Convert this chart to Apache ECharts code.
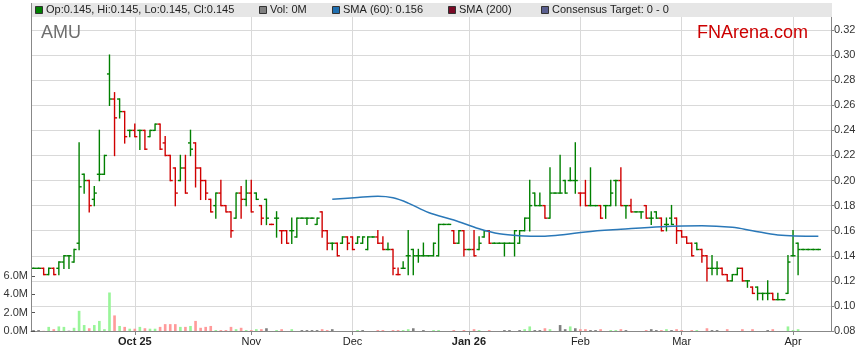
<!DOCTYPE html>
<html><head><meta charset="utf-8">
<script src="https://cdn.jsdelivr.net/npm/echarts@6/dist/echarts.min.js"></script>
<style>html,body{margin:0;padding:0;background:#fff}#c{width:859px;height:363px}</style>
</head><body><div id="c"></div>
<script>
// ---- data ----
const ticker = 'AMU';
const firstDate = '2025-09-03'; // first trading day shown
const opens = [0.13,0.13,0.13,0.125,0.13,0.13,0.135,0.14,0.135,0.15,
  0.205,0.20,0.185,0.205,0.205,0.285,0.265,0.265,0.255,0.24,
  0.24,0.24,0.24,0.235,0.24,0.245,0.23,0.22,0.21,0.20,
  0.21,0.23,0.23,0.21,0.20,0.185,0.18,0.19,0.18,0.175,
  0.17,0.19,0.185,0.19,0.19,0.18,0.185,0.165,0.17,0.16,
  0.16,0.16,0.155,0.17,0.17,0.17,0.165,0.175,0.16,0.15,
  0.15,0.15,0.155,0.155,0.15,0.15,0.145,0.155,0.155,0.15,
  0.145,0.145,0.125,0.13,0.14,0.145,0.14,0.14,0.14,0.14,
  0.14,0.165,0.165,0.16,0.15,0.16,0.145,0.145,0.145,0.155,
  0.16,0.15,0.15,0.15,0.15,0.15,0.15,0.16,0.17,0.19,
  0.18,0.18,0.17,0.19,0.19,0.20,0.20,0.20,0.19,0.19,
  0.18,0.18,0.18,0.18,0.18,0.20,0.20,0.18,0.18,0.175,
  0.175,0.18,0.17,0.175,0.17,0.165,0.17,0.17,0.16,0.155,
  0.15,0.15,0.145,0.14,0.13,0.13,0.13,0.125,0.12,0.125,
  0.13,0.12,0.115,0.115,0.11,0.11,0.11,0.105,0.105,0.11,
  0.14,0.15,0.145,0.145,0.145,0.145];
const highs = [0.13,0.13,0.13,0.13,0.13,0.135,0.14,0.14,0.145,0.23,
  0.205,0.20,0.195,0.24,0.22,0.30,0.27,0.265,0.255,0.24,
  0.245,0.24,0.24,0.24,0.245,0.245,0.235,0.22,0.21,0.22,
  0.22,0.24,0.23,0.21,0.20,0.185,0.19,0.20,0.18,0.175,
  0.19,0.195,0.20,0.20,0.19,0.18,0.185,0.165,0.175,0.16,
  0.16,0.17,0.17,0.17,0.17,0.17,0.17,0.175,0.16,0.15,
  0.15,0.155,0.155,0.155,0.155,0.155,0.155,0.155,0.16,0.155,
  0.15,0.145,0.13,0.135,0.16,0.145,0.145,0.15,0.14,0.15,
  0.165,0.165,0.165,0.16,0.16,0.16,0.145,0.16,0.155,0.16,
  0.16,0.15,0.15,0.15,0.15,0.16,0.16,0.17,0.20,0.19,
  0.19,0.18,0.21,0.19,0.22,0.20,0.21,0.23,0.19,0.20,
  0.21,0.18,0.18,0.18,0.20,0.20,0.21,0.18,0.185,0.175,
  0.175,0.18,0.175,0.175,0.17,0.17,0.18,0.17,0.16,0.155,
  0.15,0.15,0.145,0.14,0.14,0.135,0.13,0.125,0.125,0.13,
  0.13,0.12,0.115,0.115,0.11,0.12,0.11,0.11,0.105,0.14,
  0.16,0.15,0.145,0.145,0.145,0.145];
const lows = [0.13,0.13,0.125,0.125,0.125,0.125,0.13,0.13,0.135,0.145,
  0.19,0.175,0.18,0.20,0.205,0.26,0.22,0.25,0.23,0.235,
  0.235,0.225,0.225,0.235,0.24,0.225,0.22,0.20,0.18,0.20,
  0.19,0.22,0.195,0.185,0.185,0.175,0.17,0.18,0.175,0.155,
  0.17,0.17,0.18,0.175,0.185,0.165,0.165,0.165,0.155,0.15,
  0.15,0.15,0.155,0.17,0.165,0.17,0.165,0.155,0.145,0.145,
  0.14,0.15,0.145,0.145,0.15,0.15,0.145,0.155,0.15,0.145,
  0.145,0.125,0.125,0.13,0.125,0.125,0.135,0.14,0.14,0.14,
  0.14,0.165,0.165,0.15,0.15,0.14,0.145,0.14,0.145,0.155,
  0.15,0.15,0.15,0.14,0.15,0.14,0.15,0.16,0.16,0.18,
  0.18,0.17,0.17,0.19,0.19,0.19,0.20,0.19,0.18,0.18,
  0.18,0.18,0.17,0.17,0.18,0.18,0.18,0.17,0.175,0.175,
  0.17,0.17,0.165,0.17,0.16,0.16,0.165,0.15,0.155,0.15,
  0.14,0.145,0.135,0.12,0.125,0.125,0.125,0.12,0.12,0.125,
  0.12,0.115,0.11,0.105,0.105,0.105,0.105,0.105,0.105,0.11,
  0.14,0.125,0.145,0.145,0.145,0.145];
const closes = [0.13,0.13,0.125,0.13,0.125,0.135,0.14,0.14,0.145,0.195,
  0.20,0.18,0.19,0.205,0.22,0.265,0.25,0.255,0.235,0.24,
  0.235,0.24,0.225,0.24,0.245,0.225,0.22,0.20,0.19,0.21,
  0.19,0.225,0.21,0.20,0.19,0.175,0.19,0.18,0.175,0.16,
  0.19,0.185,0.19,0.175,0.185,0.17,0.17,0.165,0.17,0.16,
  0.15,0.16,0.17,0.17,0.17,0.17,0.17,0.16,0.15,0.15,
  0.14,0.155,0.15,0.145,0.155,0.155,0.155,0.155,0.15,0.145,
  0.145,0.13,0.125,0.13,0.14,0.14,0.14,0.14,0.14,0.15,
  0.165,0.165,0.165,0.15,0.16,0.145,0.145,0.14,0.15,0.16,
  0.15,0.15,0.15,0.15,0.15,0.16,0.16,0.17,0.18,0.18,
  0.18,0.17,0.19,0.19,0.19,0.19,0.20,0.20,0.19,0.18,
  0.18,0.18,0.17,0.18,0.19,0.20,0.18,0.18,0.175,0.175,
  0.175,0.17,0.17,0.17,0.16,0.165,0.165,0.16,0.155,0.15,
  0.14,0.145,0.14,0.13,0.13,0.13,0.125,0.12,0.125,0.13,
  0.12,0.12,0.11,0.11,0.11,0.11,0.105,0.105,0.105,0.135,
  0.14,0.145,0.145,0.145,0.145,0.145];
const volumesM = [0.1,0.1,0.02,0.45,0.2,0.5,0.45,0.03,0.35,2.2,
  0.65,0.3,0.65,1.1,0.2,4.2,1.7,0.55,0.45,0.25,
  0.25,0.45,0.3,0.25,0.25,0.45,0.75,0.75,0.75,0.45,
  0.45,0.55,1.1,0.35,0.45,0.55,0.1,0.1,0.1,0.45,
  0.2,0.35,0.1,0.1,0.2,0.2,0.3,0,0.1,0.2,
  0,0.2,0,0.1,0.1,0.1,0.1,0.2,0.1,0.2,
  0,0,0,0,0.1,0.1,0,0,0.1,0.1,
  0,0.1,0.1,0.1,0.2,0.3,0,0.1,0,0.1,
  0.1,0,0,0.1,0,0.1,0,0.2,0.1,0,
  0.1,0,0,0.1,0.1,0,0.1,0.2,0.5,0.1,
  0.1,0.3,0.2,0,0.65,0.2,0.5,0.3,0.2,0.2,
  0.1,0.1,0.2,0,0.1,0.1,0.2,0.1,0,0,
  0,0.1,0.2,0.1,0.1,0.2,0.1,0.2,0.1,0,
  0.1,0.1,0,0.3,0.1,0.1,0,0.2,0,0,
  0.2,0,0.2,0,0,0.1,0.2,0,0,0.5,
  0.1,0.2,0,0,0,0];
const smaIdx = [59,64,68,71,74,78,83,88,92,96,101,105,109,116,124,132,138,142,147,155];
const smaVal = [0.185,0.1865,0.1874,0.1862,0.182,0.1745,0.1685,0.1615,0.1575,0.156,0.1556,0.157,0.159,0.1611,0.1632,0.164,0.1627,0.160,0.1566,0.1555];
const priceTicks = [0.08,0.10,0.12,0.14,0.16,0.18,0.20,0.22,0.24,0.26,0.28,0.30,0.32];
const volTicksM = [0,2,4,6];
const monthNames = ['Jan','Feb','Mar','Apr','May','Jun','Jul','Aug','Sep','Oct','Nov','Dec'];
const legendItems = [
  {color:'#008000', text:'Op:' + opens[opens.length-1] + ', Hi:' + highs[highs.length-1] + ', Lo:' + lows[lows.length-1] + ', Cl:' + closes[closes.length-1]},
  {color:'#808080', text:'Vol: ' + Math.round(volumesM[volumesM.length-1]) + 'M'},
  {color:'#1f6fb0', text:'SMA (60): 0.156'},
  {color:'#7a0a26', text:'SMA (200)'},
  {color:'#5a5f8f', text:'Consensus Target: 0 - 0'}
];
const legendX = [35, 259, 332, 448, 541];

// ---- categories: consecutive weekdays from firstDate ----
const N = closes.length;
const PAD = 2;
const dates = [];
{
  let d = new Date(firstDate + 'T00:00:00Z');
  while (dates.length < N + PAD) {
    const wd = d.getUTCDay();
    if (wd !== 0 && wd !== 6) dates.push(new Date(d.getTime()));
    d.setUTCDate(d.getUTCDate() + 1);
  }
}
const cats = dates.map(d => d.toISOString().slice(0,10));
let firstLabelDone = false;
const monthStart = dates.map((d,i) => i > 0 && i < N && d.getUTCMonth() !== dates[i-1].getUTCMonth());
const labelText = {};
monthStart.forEach((m,i) => {
  if (!m) return;
  const d = dates[i];
  const withYear = !firstLabelDone || d.getUTCMonth() === 0;
  firstLabelDone = true;
  labelText[i] = withYear ? '{b|' + monthNames[d.getUTCMonth()] + ' ' + String(d.getUTCFullYear()).slice(2) + '}' : monthNames[d.getUTCMonth()];
});
const isMonth = (idx) => !!monthStart[idx];

const GREEN = '#008000', RED = '#d00000';
const ohlc = [];
const volData = [];
for (let i = 0; i < N; i++) {
  const prev = i > 0 ? closes[i-1] : closes[i];
  const diff = Math.round((closes[i] - prev) * 1000);
  ohlc.push([i, opens[i], highs[i], lows[i], closes[i], diff >= 0 ? 1 : -1]);
  volData.push({value: volumesM[i], itemStyle: {color: diff > 0 ? '#99f599' : diff < 0 ? '#ff9a9a' : '#808080'}});
}
const smaData = smaIdx.map((k,j) => [k, smaVal[j]]);

const chart = echarts.init(document.getElementById('c'), null, {renderer: 'canvas'});
const graphics = [
  {type:'rect', z:100, shape:{x:31, y:3, width:801, height:14}, style:{fill:'#e6e6e6'}},
  {type:'rect', z:100, shape:{x:832, y:0, width:12, height:10}, style:{fill:'#fff'}},
  {type:'line', z:101, shape:{x1:31.5, y1:3, x2:31.5, y2:331}, style:{stroke:'#888', lineWidth:1}},
  {type:'text', z:101, x:41, y:33, style:{text:ticker, font:'18px "Liberation Sans", Arial, sans-serif', fill:'#6f6f6f', textVerticalAlign:'middle'}},
  {type:'text', z:101, x:808, y:33, style:{text:'FNArena.com', font:'18px "Liberation Sans", Arial, sans-serif', fill:'#cc0000', textAlign:'right', textVerticalAlign:'middle'}}
];
legendItems.forEach((it, k) => {
  graphics.push({type:'rect', z:102, shape:{x:legendX[k]+0.5, y:6.5, width:7, height:7}, style:{fill:it.color, stroke:'#333', lineWidth:1}});
  graphics.push({type:'text', z:102, x:legendX[k]+11, y:10, style:{text:it.text, font:'11px "Liberation Sans", Arial, sans-serif', fill:'#222', textVerticalAlign:'middle'}});
});

chart.setOption({
  animation: false,
  backgroundColor: '#fff',
  grid: [
    {left:31, right:28, top:5, bottom:32},
    {left:31, right:28, top:276, height:55}
  ],
  xAxis: [
    {type:'category', gridIndex:0, data:cats, boundaryGap:true,
     axisLine:{show:true, lineStyle:{color:'#888'}},
     axisTick:{show:true, alignWithLabel:true, interval:isMonth, length:4, lineStyle:{color:'#888'}},
     axisLabel:{interval:isMonth, formatter:(v, i) => labelText[i] || '', fontSize:11, color:'#222', margin:5,
       fontFamily:'"Liberation Sans", Arial, sans-serif', rich:{b:{fontWeight:'bold', fontSize:11, color:'#222', fontFamily:'"Liberation Sans", Arial, sans-serif'}}},
     splitLine:{show:true, interval:isMonth, alignWithLabel:true, lineStyle:{color:'#d9d9d9', width:1}}},
    {type:'category', gridIndex:1, data:cats, boundaryGap:true, show:false}
  ],
  yAxis: [
    {type:'value', gridIndex:0, position:'right', min:priceTicks[0], max:0.34, interval:0.02,
     axisLine:{show:true, lineStyle:{color:'#888'}},
     axisTick:{show:true, length:3, lineStyle:{color:'#888'}},
     axisLabel:{formatter:v => (v > priceTicks[priceTicks.length-1] + 1e-6 ? '' : v.toFixed(2)), fontSize:11, color:'#333', margin:3, showMaxLabel:false,
       fontFamily:'"Liberation Sans", Arial, sans-serif'},
     splitLine:{show:true, lineStyle:{color:'#d9d9d9'}}},
    {type:'value', gridIndex:1, position:'left', min:volTicksM[0], max:volTicksM[volTicksM.length-1], interval:2,
     axisLine:{show:false},
     axisTick:{show:true, inside:true, length:4, lineStyle:{color:'#555'}},
     axisLabel:{formatter:v => v.toFixed(1) + 'M', fontSize:11, color:'#333', margin:3, fontFamily:'"Liberation Sans", Arial, sans-serif'},
     splitLine:{show:false}}
  ],
  graphic: graphics,
  series: [
    {type:'bar', xAxisIndex:1, yAxisIndex:1, data:volData, barWidth:'52%', z:2, silent:true},
    {type:'custom', xAxisIndex:0, yAxisIndex:0, data:ohlc, z:3, silent:true,
     encode:{x:0, y:[1,2,3,4]},
     renderItem:(params, api) => {
       const i = api.value(0);
       const pO = api.coord([i, api.value(1)]);
       const pH = api.coord([i, api.value(2)]);
       const pL = api.coord([i, api.value(3)]);
       const pC = api.coord([i, api.value(4)]);
       const half = api.size([1, 0])[0] / 2;
       const color = api.value(5) > 0 ? GREEN : RED;
       const st = {stroke: color, lineWidth: 1.4};
       const x = pH[0];
       return {type:'group', children:[
         {type:'line', shape:{x1:x, y1:pH[1]-0.7, x2:x, y2:pL[1]+0.7}, style:st},
         {type:'line', shape:{x1:x-half, y1:pO[1], x2:x, y2:pO[1]}, style:st},
         {type:'line', shape:{x1:x, y1:pC[1], x2:x+half, y2:pC[1]}, style:st}
       ]};
     }},
    {type:'line', xAxisIndex:0, yAxisIndex:0, data:smaData, smooth:0.35, showSymbol:false, silent:true, z:4,
     lineStyle:{color:'#2a78b8', width:1.5}}
  ]
});
</script>
</body></html>
